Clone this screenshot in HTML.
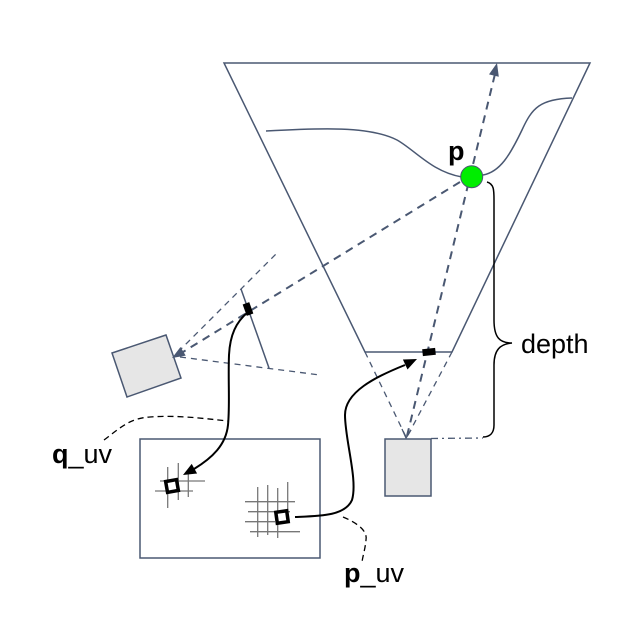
<!DOCTYPE html>
<html><head><meta charset="utf-8"><style>
html,body{margin:0;padding:0;background:#fff;}
svg{display:block;}
text{font-family:"Liberation Sans",Arial,sans-serif;font-size:27px;fill:#000;}
</style></head><body>
<svg width="630" height="617" viewBox="0 0 630 617" xmlns="http://www.w3.org/2000/svg">
<g fill="none" stroke="#4a5872" stroke-linecap="butt">
  <!-- frustum -->
  <polygon points="224,63 590,63 452,352 365,352" stroke-width="1.5"/>
  <!-- surface -->
  <path d="M266,131 C320,128 370,126 397,140 C415,150 432,172 462,177" stroke-width="1.5"/>
  <path d="M483,175 C500,172 510,155 522,130 C532,108 540,99 572,98" stroke-width="1.5"/>
  <!-- thick dashed camera->p->top -->
  <line x1="407" y1="436" x2="495" y2="74" stroke-width="2" stroke-dasharray="8,6"/>
  <!-- thin dashed camera to frustum corners -->
  <line x1="365" y1="352" x2="406" y2="437" stroke-width="1.3" stroke-dasharray="6,5"/>
  <line x1="452" y1="352" x2="407" y2="437" stroke-width="1.3" stroke-dasharray="6,5"/>
  <polyline points="402,429 406,438 411,430" stroke-width="1.3"/>
  <!-- thick dashed p -> left camera -->
  <line x1="460" y1="182" x2="183" y2="352" stroke-width="2" stroke-dasharray="8,6"/>
  <!-- thin dashed from left camera -->
  <line x1="178" y1="352" x2="278" y2="252" stroke-width="1.3" stroke-dasharray="6,5"/>
  <line x1="180" y1="357" x2="320" y2="375" stroke-width="1.3" stroke-dasharray="6,5"/>
  <!-- image plane line -->
  <line x1="241" y1="289" x2="269" y2="368" stroke-width="1.5"/>
  <!-- left camera -->
  <polygon points="112,353 166,335 181,378 127,397" fill="#e6e6e6" stroke-width="1.5"/>
  <!-- bottom camera -->
  <rect x="385" y="439" width="46" height="57" fill="#e6e6e6" stroke-width="1.5"/>
  <!-- image rect -->
  <rect x="140" y="439" width="180" height="119" stroke-width="1.5"/>
</g>
<!-- arrowheads slate -->
<polygon points="497,63 498.8,76.8 489,74.4" fill="#4a5872"/>
<polygon points="172,358 185.7,355.6 180.5,347" fill="#4a5872"/>
<!-- grids -->
<g stroke="#777" stroke-width="1.3">
  <line x1="167.7" y1="467" x2="167.7" y2="508"/>
  <line x1="178.3" y1="463" x2="178.3" y2="500"/>
  <line x1="188.3" y1="473" x2="188.3" y2="497"/>
  <line x1="160" y1="481" x2="205" y2="481"/>
  <line x1="155" y1="491" x2="193" y2="491"/>
  <line x1="257.7" y1="487" x2="257.7" y2="537"/>
  <line x1="267.7" y1="485" x2="267.7" y2="535"/>
  <line x1="277.7" y1="488" x2="277.7" y2="538"/>
  <line x1="287.7" y1="482" x2="287.7" y2="523"/>
  <line x1="245" y1="501.7" x2="295" y2="501.7"/>
  <line x1="248" y1="511.7" x2="290" y2="511.7"/>
  <line x1="245" y1="521.7" x2="275" y2="521.7"/>
  <line x1="250" y1="531.7" x2="300" y2="531.7"/>
</g>
<!-- black squares -->
<rect x="166.5" y="480.5" width="11" height="11" fill="#fff" stroke="#000" stroke-width="3.5" transform="rotate(-10 172 486)"/>
<rect x="276.5" y="511.5" width="11" height="11" fill="#fff" stroke="#000" stroke-width="3.5" transform="rotate(-8 282 517)"/>
<!-- black markers -->
<rect x="244.5" y="303" width="7" height="12" fill="#000" transform="rotate(-20 248 309)"/>
<rect x="422.5" y="348.5" width="13" height="7" fill="#000" transform="rotate(-6 429 352)"/>
<!-- black curves -->
<g fill="none" stroke="#000" stroke-width="2">
  <path d="M248,312 C236,322 230,335 229,355 C228,380 230,405 228,425 C226,445 212,458 194,469"/>
  <path d="M295,517 C320,516 345,516 352,500 C358,480 345,440 345,415 C345,392 375,377 405,365"/>
</g>
<polygon points="183,475 197.1,473.5 191.7,463.9" fill="#000"/>
<polygon points="417,359 407.5,369.5 402.9,359.5" fill="#000"/>
<!-- brace -->
<path d="M487,182 C494,184 494,190 494,200 L494,320 C494,338 500,343 512,343 C500,344 494,350 494,365 L494,425 C494,433 490,437 483,437" fill="none" stroke="#000" stroke-width="1.5"/>
<line x1="431" y1="438.5" x2="483" y2="438" stroke="#4a5872" stroke-width="1.3" stroke-dasharray="7,4,2,4"/>
<!-- dashed label leaders -->
<path d="M104,440 C120,428 130,418 150,417 C175,415 200,418 228,421" fill="none" stroke="#000" stroke-width="1.3" stroke-dasharray="6,4"/>
<path d="M343,517 C355,522 368,530 366,540 C365,550 363,555 362,562" fill="none" stroke="#000" stroke-width="1.3" stroke-dasharray="6,4"/>
<!-- green point -->
<circle cx="471.7" cy="176.7" r="11" fill="#00ee00" stroke="#4a5872" stroke-width="1"/>
<!-- labels -->
<text x="448" y="160" font-weight="bold">p</text>
<text x="521" y="353">depth</text>
<text x="52" y="463"><tspan font-weight="bold">q</tspan>_uv</text>
<text x="344" y="582"><tspan font-weight="bold">p</tspan>_uv</text>
</svg>
</body></html>
